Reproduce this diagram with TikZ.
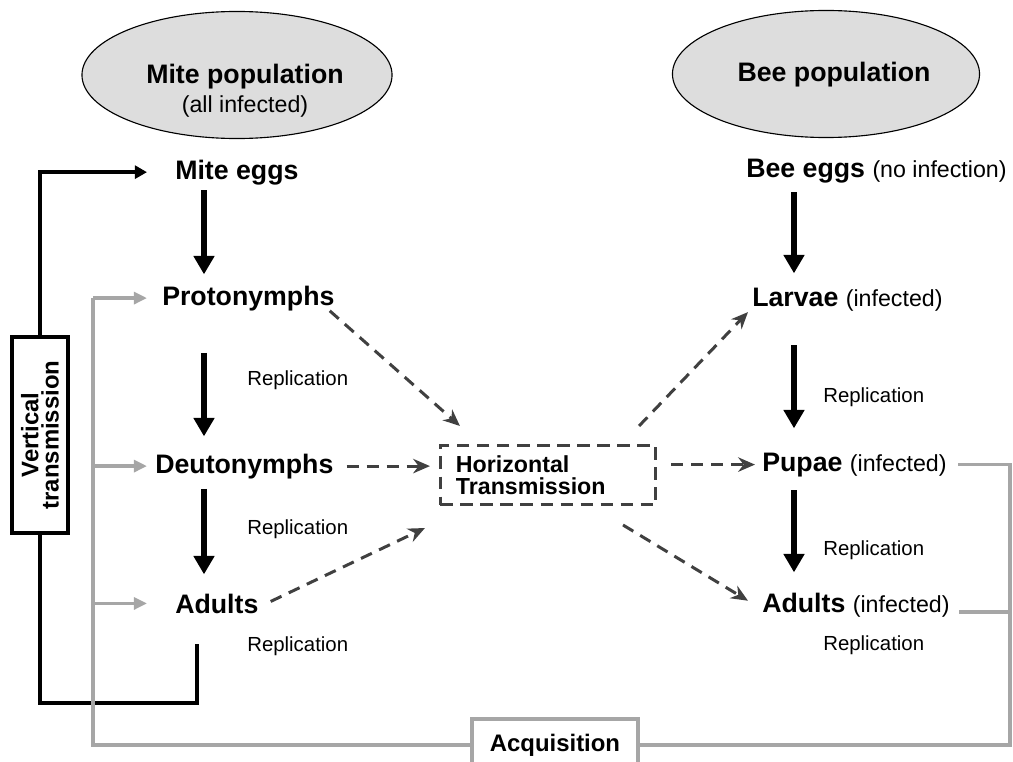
\documentclass[tikz,border=0pt]{standalone}
\usepackage{fontspec}
\setmainfont{Liberation Sans}
\usetikzlibrary{shapes,arrows.meta,positioning,calc}

\definecolor{popfill}{HTML}{DDDDDD}
\definecolor{acqgray}{HTML}{A6A6A6}
\definecolor{dashgray}{HTML}{404040}

\newcommand{\plaintxt}{\fontsize{16.5}{20}\selectfont\mdseries}

\begin{document}
\begin{tikzpicture}[x=0.025cm, y=-0.025cm,
    pop/.style={ellipse, draw, fill=popfill, line width=0.8pt, inner sep=0, minimum width=7.75cm, minimum height=3.175cm},
    stage/.style={inner sep=0, anchor=base west, font=\fontsize{19}{22}\selectfont\bfseries},
    note/.style={inner sep=0, anchor=base, font=\plaintxt},
    rep/.style={inner sep=0, anchor=base west, font=\fontsize{14.5}{17}\selectfont},
    bigarrow/.style={line width=0.165cm, -{Triangle[length=0.46cm,width=0.5cm]}},
    dasharrow/.style={dashgray, line width=0.075cm, dash pattern=on 0.3cm off 0.2cm, -{Stealth[length=0.42cm,width=0.36cm]}},
    acqline/.style={acqgray, line width=0.085cm},
    acqarrow/.style={acqline, -{Triangle[length=0.33cm,width=0.3cm]}},
    vline/.style={line width=0.1cm}
]
\useasboundingbox (0,0) rectangle (1013,762);

% populations
\node[pop] (mitepop) at (237,75) {};
\node[stage, anchor=base] (mitename) at (245,83) {Mite population};
\node[note] (miteinf) at (245,112) {(all infected)};
\node[pop, minimum width=7.675cm] (beepop) at (826,74) {};
\node[stage, anchor=base] (beename) at (834,81) {Bee population};

% mite stages
\node[stage] (miteeggs) at (175,179) {Mite eggs};
\node[stage] (proto) at (162,305) {Protonymphs};
\node[stage] (deuto) at (155,473) {Deutonymphs};
\node[stage] (miteadults) at (175,613) {Adults};
\node[rep] (mrep1) at (247,385) {Replication};
\node[rep] (mrep2) at (247,534) {Replication};
\node[rep] (mrep3) at (247,651) {Replication};

% bee stages
\node[stage] (beeeggs) at (746,177) {Bee eggs {\plaintxt(no infection)}};
\node[stage] (larvae) at (752,306) {Larvae {\plaintxt(infected)}};
\node[stage] (pupae) at (762,471) {Pupae {\plaintxt(infected)}};
\node[stage] (beeadults) at (762,612) {Adults {\plaintxt(infected)}};
\node[rep] (brep1) at (823,402) {Replication};
\node[rep] (brep2) at (823,555) {Replication};
\node[rep] (brep3) at (823,650) {Replication};

\node[draw=dashgray, line width=0.075cm, dash pattern=on 0.32cm off 0.18cm,
      minimum width=5.375cm, minimum height=1.475cm, text width=4.6cm,
      inner xsep=0.35cm, inner ysep=0, align=left,
      font=\fontsize{16.5}{15.6}\selectfont\bfseries] (htrans) at (548,475) {Horizontal\\Transmission};

\node[draw, line width=0.1cm, fill=white, rotate=90, minimum width=4.875cm,
      minimum height=1.375cm, inner sep=0, align=center,
      font=\fontsize{17}{14.5}\selectfont\bfseries] (vtbox) at (40,435) {Vertical\\transmission};

\node[draw=acqgray, line width=0.1cm, fill=white, minimum width=4.125cm,
      minimum height=1.3cm, inner sep=0,
      font=\fontsize{17}{20}\selectfont\bfseries] (acq) at (555,745) {Acquisition};

\coordinate (gx) at (93,0);
\coordinate (tipx) at (147,0);
\coordinate (gr) at (1010,0);
\coordinate (mcol) at (204,0);
\coordinate (bcol) at (794,0);
\coordinate (vtend) at (197,644);

% life cycles
\draw[bigarrow, shorten <=0.135cm, shorten >=0.275cm] (mcol |- miteeggs.south) -- (mcol |- proto.north);
\draw[bigarrow, shorten <=1.05cm, shorten >=0.425cm] (mcol |- proto.south) -- (mcol |- deuto.north);
\draw[bigarrow, shorten <=0.25cm, shorten >=0.475cm] (mcol |- deuto.south) -- (mcol |- miteadults.north);
\draw[bigarrow, shorten <=0.235cm, shorten >=0.35cm] (bcol |- beeeggs.south) -- (bcol |- larvae.north);
\draw[bigarrow, shorten <=0.85cm, shorten >=0.6cm] (bcol |- larvae.south) -- (bcol |- pupae.north);
\draw[bigarrow, shorten <=0.335cm, shorten >=0.5cm] (bcol |- pupae.south) -- (bcol |- beeadults.north);

% horizontal transmission
\draw[dasharrow] ($(proto.south east)+(-5,0)$) -- ($(htrans.north west)+(21,-18)$);
\draw[dasharrow, shorten <=0.325cm, shorten >=0.225cm] (deuto.east) -- (deuto.east -| htrans.west);
\draw[dasharrow] ($(miteadults.east)+(12,-2)$) -- ($(htrans.south west)+(-14,22)$);
\draw[dasharrow] ($(htrans.north east)+(-18,-18)$) -- ($(larvae.south west)+(-4,1)$);
\draw[dasharrow, shorten <=0.35cm, shorten >=0.175cm] (pupae.west -| htrans.east) -- (pupae.west);
\draw[dasharrow] ($(htrans.south east)+(-34,19)$) -- ($(beeadults.west)+(-14,-4)$);

% vertical transmission
\draw[vline] (vtend) -- ++(0,59) -| (vtbox.west);
\draw[vline, -{Triangle[length=0.3cm,width=0.32cm]}] (vtbox.east) |- (tipx |- miteeggs);

% acquisition
\draw[acqline] (gx |- proto) |- (acq.west);
\draw[acqarrow] (gx |- proto) -- (tipx |- proto);
\draw[acqarrow] (gx |- deuto) -- (tipx |- deuto);
\draw[acqarrow] (gx |- miteadults) -- (tipx |- miteadults);
\draw[acqline, shorten >=0.275cm] (acq.east) -| (gr |- pupae) -- (pupae.east);
\draw[acqline, shorten >=0.225cm] (gr |- beeadults.base) -- (beeadults.base east);
\end{tikzpicture}
\end{document}
